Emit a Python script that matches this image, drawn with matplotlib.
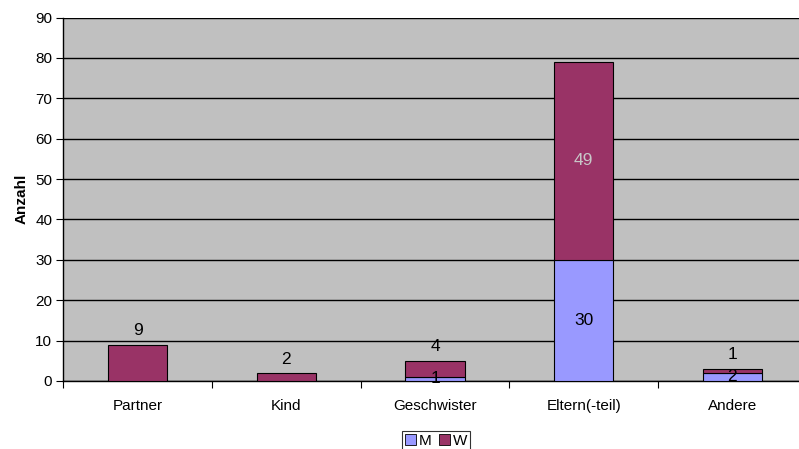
import matplotlib
matplotlib.use("Agg")
import matplotlib.pyplot as plt
from matplotlib.patches import Patch

categories = ["Partner", "Kind", "Geschwister", "Eltern(-teil)", "Andere"]
m_values = [0, 0, 1, 30, 2]
w_values = [9, 2, 4, 49, 1]
y_ticks = [0, 10, 20, 30, 40, 50, 60, 70, 80, 90]

plt.rcParams['font.family'] = ['Liberation Sans', 'DejaVu Sans']

fig = plt.figure(figsize=(7.99, 4.49), dpi=100)
ax = fig.add_axes([63.3 / 799, 1 - 381 / 449, 743.4 / 799, 363.5 / 449])
ax.set_facecolor('#C0C0C0')

x = list(range(len(categories)))
c_m = '#9999FF'
c_w = '#993366'
ax.bar(x, m_values, width=0.4, color=c_m, edgecolor='black', linewidth=0.8, zorder=3)
ax.bar(x, w_values, width=0.4, bottom=m_values, color=c_w, edgecolor='black', linewidth=0.8, zorder=3)

for xi, m, w in zip(x, m_values, w_values):
    if m > 0:
        ax.text(xi, m / 2, str(m), ha='center', va='center', fontsize=12.5, color='black', zorder=5)
    if w > 0:
        if w > 20:
            ax.text(xi, m + w / 2, str(w), ha='center', va='center', fontsize=12.5, color='#C8C8C8', zorder=5)
        else:
            ax.annotate(str(w), (xi, m + w), xytext=(0, 10), textcoords='offset points',
                        ha='center', va='center', fontsize=12.5, color='black', zorder=5)

ax.set_xlim(-0.5, len(categories) - 0.5)
ax.set_ylim(0, 90)
ax.set_yticks(y_ticks)
ax.yaxis.grid(True, color='black', linewidth=1.0, zorder=1)
ax.set_axisbelow(True)
ax.set_xticks(x)
ax.set_xticklabels(categories, fontsize=11)
ax.set_xticks([i - 0.5 for i in range(len(categories) + 1)], minor=True)
ax.tick_params(axis='x', which='major', length=0, pad=13)
ax.tick_params(axis='x', which='minor', length=5, width=0.8, direction='out')
ax.tick_params(axis='y', length=5, width=0.8, direction='out', labelsize=11, pad=3)
for s in ['top', 'right']:
    ax.spines[s].set_visible(False)
ax.spines['left'].set_linewidth(1.0)
ax.spines['bottom'].set_linewidth(1.0)

ax.set_ylabel('Anzahl', fontsize=11, fontweight='bold', labelpad=5)

handles = [Patch(facecolor=c_m, edgecolor='black', linewidth=0.6, label='M'),
           Patch(facecolor=c_w, edgecolor='black', linewidth=0.6, label='W')]
leg = fig.legend(handles=handles, loc='lower center', bbox_to_anchor=(436 / 799, -0.005), ncol=2,
                 fontsize=11, frameon=True, fancybox=False, edgecolor='black',
                 handlelength=0.7, handleheight=0.7, handletextpad=0.2, columnspacing=0.5,
                 borderpad=0.2, borderaxespad=0)
leg.get_frame().set_linewidth(0.8)

fig.savefig('out.png', dpi=100)
